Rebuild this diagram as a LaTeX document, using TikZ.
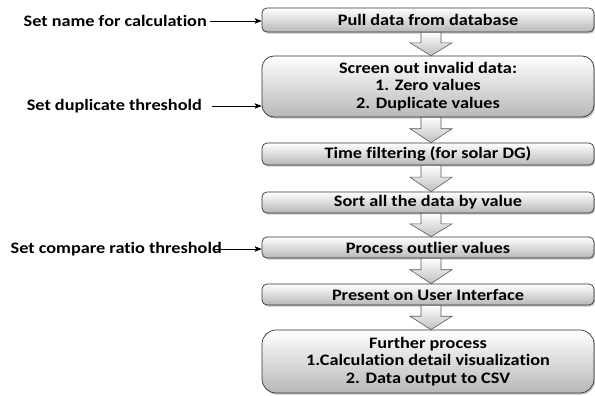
\documentclass[tikz,border=0pt]{standalone}
\usepackage{fontspec}
\setmainfont{Carlito}[FakeStretch=1.14, Ligatures=NoCommon]
\usetikzlibrary{shadows,calc,arrows.meta}

\tikzset{
  label font/.style={font=\bfseries\fontsize{16}{17.5}\selectfont},
  stagebox/.style={label font, align=center, inner sep=0pt,
    draw=black!80, line width=0.7pt, rounded corners=5pt,
    top color=white, bottom color=black!28,
    minimum width=332pt,
    drop shadow={shadow xshift=1.2pt, shadow yshift=-1.6pt, opacity=0.45}},
  sidelabel/.style={label font, inner sep=0pt, anchor=east},
  inarrow/.style={-{Stealth[length=7pt,width=5.5pt,inset=1.5pt]}, line width=0.8pt},
  blockarrow/.style={draw=black!65, line width=0.6pt, line join=miter,
    top color=white, bottom color=black!25}
}

% hollow down-arrow between two stacked stages
\newcommand\flowarrow[2]{%
  \draw[blockarrow] let \p1=(#1.south), \p2=(#2.north),
      \n1={\y1+0.45*(\y2-\y1)} in
    (421pt,\y1) -- (421pt,\n1) -- (410pt,\n1) -- (431pt,\y2)
    -- (452pt,\n1) -- (441pt,\n1) -- (441pt,\y1) -- cycle;}

\begin{document}
\begin{tikzpicture}[x=1pt,y=-1pt]
\useasboundingbox (0,0) rectangle (595,396);

% processing stages
\node[stagebox, minimum height=24pt] (b1) at (428,20) {Pull data from database};
\node[stagebox, minimum height=61pt, rounded corners=12pt] (b2) at (428,86.5)
  {Screen out invalid data:\\1. Zero values\\2. Duplicate values};
\node[stagebox, minimum height=22pt] (b3) at (428,154) {Time filtering (for solar DG)};
\node[stagebox, minimum height=21pt] (b4) at (428,202.5) {Sort all the data by value};
\node[stagebox, minimum height=21pt] (b5) at (428,247.5) {Process outlier values};
\node[stagebox, minimum height=21pt] (b6) at (428,294.5) {Present on User Interface};
\node[stagebox, minimum height=63pt, rounded corners=14pt] (b7) at (428,361.5)
  {Further process\\1.Calculation detail visualization\\2. Data output to CSV};

% flow between stages
\flowarrow{b1}{b2}
\flowarrow{b2}{b3}
\flowarrow{b3}{b4}
\flowarrow{b4}{b5}
\flowarrow{b5}{b6}
\flowarrow{b6}{b7}

% user-set parameters
\node[sidelabel] (l1) at (207,21) {Set name for calculation};
\node[sidelabel] (l2) at (202,106) {Set duplicate threshold};
\node[sidelabel] (l3) at (222,249) {Set compare ratio threshold};

\draw[inarrow] ([xshift=3pt]l1.east) -- (l1.east -| b1.west);
\draw[inarrow] ([xshift=10pt]l2.east) -- (l2.east -| b2.west);
\draw[inarrow] ([xshift=-9pt]l3.east) -- (l3.east -| b5.west);
\end{tikzpicture}
\end{document}
